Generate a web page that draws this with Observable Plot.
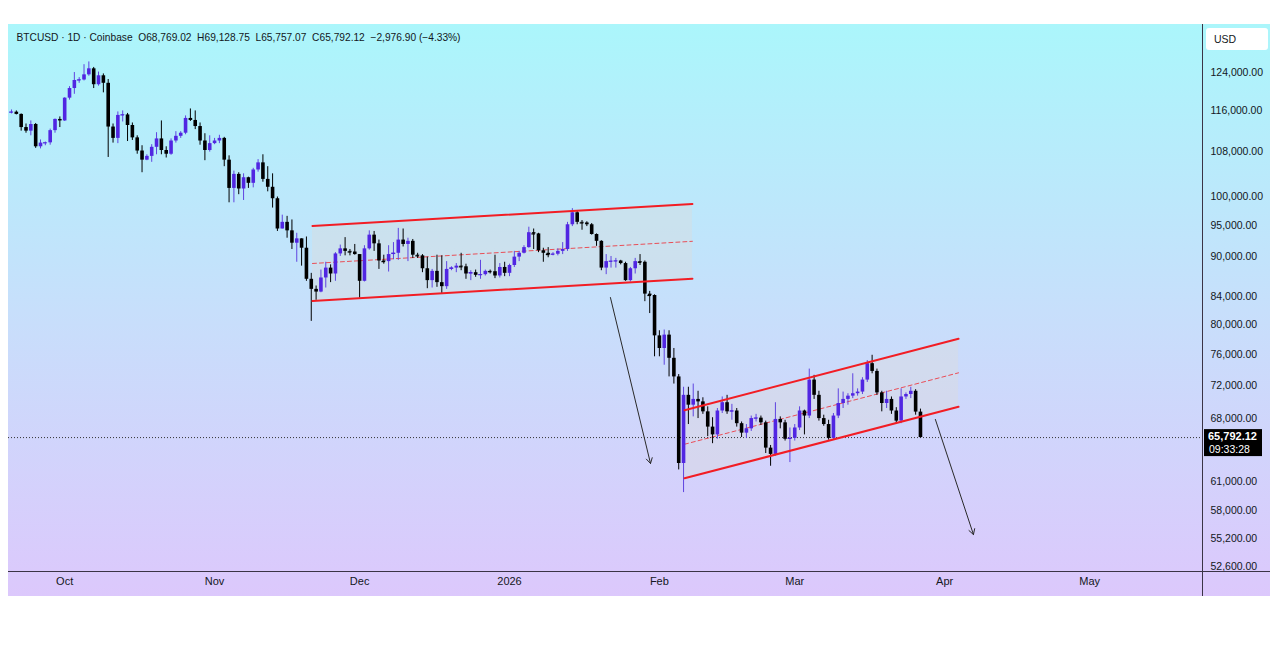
<!DOCTYPE html>
<html><head><meta charset="utf-8">
<script src="https://cdn.jsdelivr.net/npm/d3@7"></script>
<script src="https://cdn.jsdelivr.net/npm/@observablehq/plot@0.6"></script>
<style>
html,body{margin:0;padding:0;background:#fff;}
#chart{position:absolute;left:0;top:0;}
</style></head><body><div id="chart"></div>
<script>
// ---- data (BTCUSD daily, Coinbase) ----
const startDate = "2025-09-20";
const open = [115700,115750,115300,112700,112000,113300,109000,109700,109750,112100,114300,
114000,118600,120600,122300,122400,123500,124800,121400,123300,121700,112800,110600,115100,115200,113100,110700,108200,106500,107200,108900,110500,108300,107600,110100,111000,111600,114500,114100,112900,110100,108300,
109600,110100,110600,106500,101400,103900,101300,103300,102300,104700,106000,103000,101600,99600,94500,95600,94200,92200,92900,91400,86600,85100,84700,86800,88300,87400,90500,91300,90900,90800,
90400,86300,91300,93500,92100,89400,89300,90400,90600,92700,92000,92500,90300,90200,88200,86400,87800,86100,85500,88100,88300,88600,88500,87400,87600,87200,87300,87800,87750,87100,88400,
87500,88700,90000,90600,91500,93900,93700,91000,90600,90400,90450,90900,91200,95200,97200,95600,95500,95200,93600,92500,88300,89300,89350,89400,89000,86400,88200,89300,89200,84400,84200,
78500,76800,78600,75500,73100,62900,70800,69600,70300,70000,68800,67000,66100,68900,69900,68800,68900,67400,66300,66800,68000,68050,67500,64600,63900,67900,67500,65600,
65700,66900,68900,68300,72700,70800,68000,67300,65700,68300,69800,70300,70700,71000,71200,72700,74800,73800,71100,69800,70300,68900,67700,70600,70900,71300,68769.02];
const high = [116200,116000,115400,113400,114000,113500,110300,109900,112400,114400,114800,
118700,121000,124000,122900,125700,126300,125100,124100,123700,122500,113400,115800,116000,115500,113600,111100,109200,107500,109400,111700,114000,109000,110500,111900,111900,115000,116400,116000,113600,111500,111100,
110600,111200,110800,107300,104500,104200,104000,103400,105000,106600,107500,105300,104000,99900,96800,96600,96000,93800,92900,93200,87500,85600,88000,89200,88800,90700,91900,93100,91200,92000,
90400,91800,94200,94100,92700,90300,91800,92300,94600,94500,93000,92800,90600,90400,90000,88100,90300,90200,89300,88500,89000,90600,88900,87900,88000,89500,88000,88000,90300,89000,89200,
88900,90900,90900,91800,94800,94500,93800,91400,91500,90700,91300,92300,95600,97900,97500,95900,95700,95400,93700,92600,90400,90100,89800,89500,89200,88400,89800,90400,89400,84800,84300,
79200,79300,79200,76800,73400,71800,71800,72200,71300,70500,69400,68100,69200,70600,70800,69700,69200,67600,67300,68300,68500,68300,67700,64900,69900,68200,67800,66900,
67300,69400,69000,74100,73300,71300,68400,67800,68600,71600,71200,71000,73500,71600,73000,75200,75900,74100,71300,71300,70600,69300,71600,71100,71800,71500,69128.75];
const low = [115400,115200,112000,111600,111100,108700,108600,109200,109300,111600,112700,
113900,118200,119400,121700,122200,123200,120600,121100,119700,107000,109700,109600,113800,110000,110200,107600,104200,106400,106100,107500,107500,106900,107400,109700,110600,111300,113900,112300,109300,106400,108000,
109400,109600,105300,98900,98900,100300,99300,101400,101500,104300,102500,100800,98000,94100,94500,93000,91200,89200,88600,86300,80500,83500,84600,85300,86100,86300,90100,90200,90200,90300,
83800,86200,91100,90900,88100,88900,87700,89600,89500,91600,89300,89800,89800,87600,85200,85300,85400,84500,85100,87900,87600,87900,86600,86400,86900,86600,87100,87400,86700,86800,87000,
87000,88400,89300,90500,91400,91200,90700,89200,89900,90200,90200,90400,90900,94900,95200,94300,94900,93500,91700,87900,87300,88300,88300,88800,86300,86200,87400,88700,83300,81600,75700,
75700,74600,73100,72200,62200,59800,67300,68200,68000,68500,65900,65100,65600,68600,68500,67800,67000,65800,65700,66500,67600,67200,64000,62600,63700,66800,65400,63000,
65400,66600,66100,68000,70300,67700,67100,65500,65500,68000,69200,69600,70400,70700,70900,72400,73500,70800,68800,69200,68500,67400,67400,70300,70400,68400,65757.07];
const close = [115750,115300,112700,112000,113300,109000,109700,109750,112100,114300,114000,
118600,120600,122300,122400,123500,124800,121400,123300,121700,112800,110600,115100,115200,113100,110700,108200,106500,107200,108900,110500,108300,107600,110100,111000,111600,114500,114100,112900,110100,108300,109600,
110100,110600,106500,101400,103900,101300,103300,102300,104700,106000,103000,101600,99600,94500,95600,94200,92200,92900,91400,86600,85100,84700,86800,88300,87400,90500,91300,90900,90800,90400,
86300,91300,93500,92100,89400,89300,90400,90600,92700,92000,92500,90300,90200,88200,86400,87800,86100,85500,88100,88300,88600,88500,87400,87600,87200,87300,87800,87750,87100,88400,87500,
88700,90000,90600,91500,93900,93700,91000,90600,90400,90450,90900,91200,95200,97200,95600,95500,95200,93600,92500,88300,89300,89350,89400,89000,86400,88200,89300,89200,84400,84200,78500,
76800,78600,75500,73100,62900,70800,69600,70300,70000,68800,67000,66100,68900,69900,68800,68900,67400,66300,66800,68000,68050,67500,64600,63900,67900,67500,65600,65700,
66900,68900,68300,72700,70800,68000,67300,65700,68300,69800,70300,70700,71000,71200,72700,74800,73800,71100,69800,70300,68900,67700,70600,70900,71300,68769.02,65792.12];

const yTicks = [124000,116000,108000,100000,95000,90000,84000,80000,76000,72000,68000,61000,58000,55200,52600];
const monthTicks = ["2025-10-01","2025-11-01","2025-12-01","2026-01-01","2026-02-01","2026-03-01","2026-04-01","2026-05-01"];
const monthLabels = ["Oct","Nov","Dec","2026","Feb","Mar","Apr","May"];

// drawn channels (date, upper, lower)
const channel1Dates = ["2025-11-21T06:00Z","2026-02-07T20:00Z"];
const channel1Upper = [95000,98700];
const channel1Lower = [83400,86700];
const channel2Dates = ["2026-02-06T05:00Z","2026-04-03T21:00Z"];
const channel2Upper = [69000,78100];
const channel2Lower = [61300,69400];
// drawn arrows
const arrowStartDates = ["2026-01-21T21:00Z","2026-03-30T02:00Z"];
const arrowStartPrices = [83900,67900];
const arrowEndDates = ["2026-01-30T04:00Z","2026-04-06T23:00Z"];
const arrowEndPrices = [62900,55600];

const header = "BTCUSD · 1D · Coinbase  O68,769.02  H69,128.75  L65,757.07  C65,792.12  −2,976.90 (−4.33%)";
const lastPrice = close[close.length-1];

// ---- build tables ----
const start = new Date(startDate + "T00:00Z");
const candles = close.map((c,i)=>({date: d3.utcDay.offset(start,i), open: open[i], high: high[i], low: low[i], close: c}));
const up = candles.filter(d=>d.close>=d.open);
const down = candles.filter(d=>d.close<d.open);
const doji = candles.filter(d=>Math.abs(d.close-d.open)/d.close < 0.0025);
const half = 0.38*864e5;
const mkChannel = (dates, upper, lower) => dates.map((d,i)=>({date:new Date(d), upper:upper[i], lower:lower[i], mid:Math.sqrt(upper[i]*lower[i])}));
const ch1 = mkChannel(channel1Dates, channel1Upper, channel1Lower);
const ch2 = mkChannel(channel2Dates, channel2Upper, channel2Lower);
const arrows = arrowStartDates.map((d,i)=>({x1:new Date(d), y1:arrowStartPrices[i], x2:new Date(arrowEndDates[i]), y2:arrowEndPrices[i]}));
const months = monthTicks.map((d,i)=>({date:new Date(d+"T00:00Z"), label:monthLabels[i]}));

const UP="#5126e2", UPWICK="#5f44e0", DOWN="#000000", RED="#f21d24";
const FONT = "'Liberation Sans', Arial, sans-serif";

function background(index, scales, values, dims) {
  const g = d3.create("svg:g");
  const lg = g.append("defs").append("linearGradient").attr("id","bggrad").attr("x1",0).attr("y1",0).attr("x2",0).attr("y2",1);
  lg.append("stop").attr("offset","0%").attr("stop-color","#abf6fb");
  lg.append("stop").attr("offset","50%").attr("stop-color","#c7dffb");
  lg.append("stop").attr("offset","100%").attr("stop-color","#dcc8fc");
  g.append("rect").attr("x", dims.marginLeft).attr("y", dims.marginTop)
    .attr("width", dims.width - dims.marginLeft - 10).attr("height", dims.height - dims.marginTop - dims.marginBottom + 25)
    .attr("fill","url(#bggrad)");
  return g.node();
}
function frameLines(index, scales, values, dims) {
  const g = d3.create("svg:g").attr("stroke","#3b3446").attr("stroke-width",1);
  const xr = dims.width - dims.marginRight, yb = dims.height - dims.marginBottom;
  g.append("line").attr("x1", xr+0.5).attr("x2", xr+0.5).attr("y1", dims.marginTop).attr("y2", yb+25);
  g.append("line").attr("x1", dims.marginLeft).attr("x2", dims.width-10).attr("y1", yb+0.5).attr("y2", yb+0.5);
  return g.node();
}
function rightBoxes(index, scales, values, dims) {
  const g = d3.create("svg:g").attr("font-family", FONT).attr("text-anchor","start");
  const xr = dims.width - dims.marginRight;
  g.append("rect").attr("x", xr+4).attr("y", dims.marginTop+4).attr("width", 62).attr("height", 22).attr("rx", 3).attr("fill","#fff");
  g.append("text").attr("x", xr+12).attr("y", dims.marginTop+19).attr("font-size", 10.5).attr("fill","#131722").text("USD");
  const py = scales.y(lastPrice);
  g.append("rect").attr("x", xr+2).attr("y", py-8).attr("width", 58).attr("height", 27).attr("fill","#000");
  g.append("text").attr("x", xr+6).attr("y", py+3).attr("font-size", 11).attr("font-weight","bold").attr("fill","#fff").text(d3.format(",.2f")(lastPrice));
  g.append("text").attr("x", xr+7).attr("y", py+16).attr("font-size", 10.5).attr("fill","#fff").text("09:33:28");
  return g.node();
}

const chart = Plot.plot({
  width: 1280, height: 649,
  marginLeft: 8, marginRight: 78, marginTop: 24, marginBottom: 78,
  style: {background: "transparent", fontFamily: FONT, fontSize: "11px", color: "#131722", overflow: "visible"},
  x: {type: "utc", domain: [new Date("2025-09-19T09:07Z"), new Date("2026-05-24T08:00Z")], axis: null},
  y: {type: "log", domain: [52145, 134780], axis: null},
  marks: [
    background,
    // channels
    Plot.areaY(ch1, {x:"date", y1:"lower", y2:"upper", fill:"#dcdcdc", fillOpacity:0.4}),
    Plot.areaY(ch2, {x:"date", y1:"lower", y2:"upper", fill:"#dcdcdc", fillOpacity:0.4}),
    Plot.line(ch1, {x:"date", y:"mid", stroke:RED, strokeWidth:1, strokeDasharray:"4,3", strokeOpacity:0.75}),
    Plot.line(ch2, {x:"date", y:"mid", stroke:RED, strokeWidth:1, strokeDasharray:"4,3", strokeOpacity:0.75}),
    Plot.ruleY([lastPrice], {stroke:"#333", strokeWidth:1, strokeDasharray:"1,2"}),
    // candles
    Plot.ruleX(down, {x:"date", y1:"low", y2:"high", stroke:DOWN, strokeWidth:1}),
    Plot.ruleX(up, {x:"date", y1:"low", y2:"high", stroke:UPWICK, strokeWidth:1}),
    Plot.ruleX(down, {x:"date", y1:"open", y2:"close", stroke:DOWN, strokeWidth:3.6}),
    Plot.ruleX(up, {x:"date", y1:"open", y2:"close", stroke:UP, strokeWidth:3.6}),
    Plot.ruleY(doji, {y:"close", x1:d=>new Date(+d.date-half), x2:d=>new Date(+d.date+half), stroke:d=>d.close>=d.open?UP:DOWN, strokeWidth:1.2}),
    Plot.line(ch1, {x:"date", y:"upper", stroke:RED, strokeWidth:2}),
    Plot.line(ch1, {x:"date", y:"lower", stroke:RED, strokeWidth:2}),
    Plot.line(ch2, {x:"date", y:"upper", stroke:RED, strokeWidth:2}),
    Plot.line(ch2, {x:"date", y:"lower", stroke:RED, strokeWidth:2}),
    Plot.arrow(arrows, {x1:"x1", y1:"y1", x2:"x2", y2:"y2", stroke:"#2a2a2a", strokeWidth:1, headLength:9}),
    // axes
    Plot.axisY(yTicks, {anchor:"right", tickSize:0, tickPadding:8, tickFormat:d3.format(",.2f"), fontSize:10.5, fill:"#131722", label:null}),
    Plot.text(months, {x:"date", text:"label", frameAnchor:"bottom", dy:13, fontSize:11, fill:"#131722", fontWeight:d=>d.label==="2026"?"bold":"normal"}),
    frameLines,
    rightBoxes,
    Plot.text([header], {frameAnchor:"top-left", dx:8, dy:9, fontSize:10.2, fill:"#131722"})
  ]
});
document.getElementById("chart").appendChild(chart);
</script></body></html>
